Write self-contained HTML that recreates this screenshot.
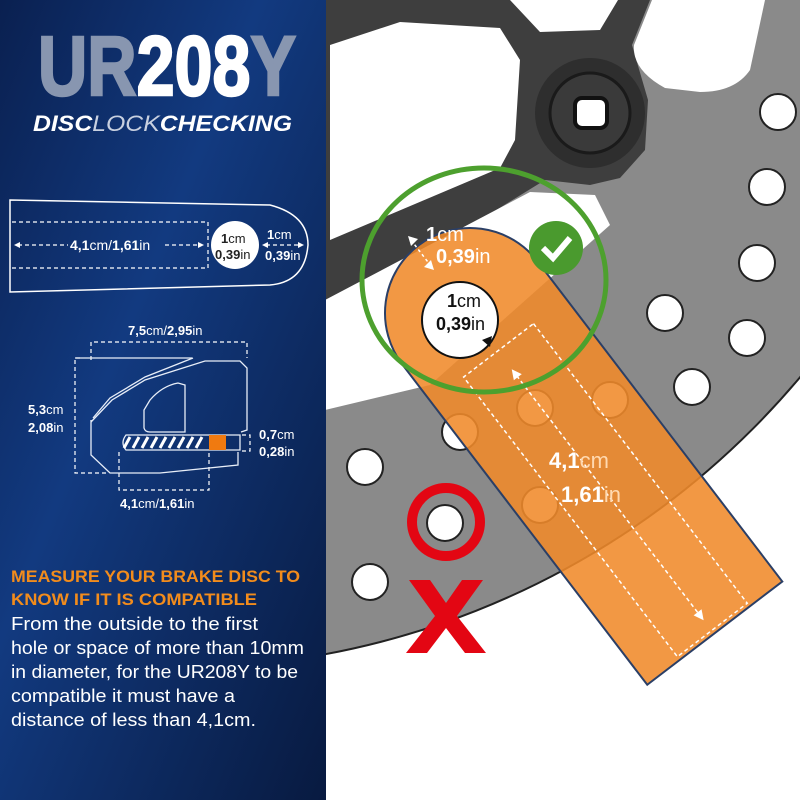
<!DOCTYPE html>
<html><head><meta charset="utf-8"><style>
html,body{margin:0;padding:0;background:#fff}
svg{display:block}
text{font-family:"Liberation Sans",sans-serif}
</style></head><body>
<svg width="800" height="800" viewBox="0 0 800 800" xmlns="http://www.w3.org/2000/svg">
<defs>
<linearGradient id="bg" x1="0" y1="0" x2="1" y2="1">
<stop offset="0" stop-color="#0a2050"/><stop offset="0.4" stop-color="#123a80"/><stop offset="1" stop-color="#081a40"/>
</linearGradient>
<clipPath id="rc"><rect x="325" y="0" width="475" height="800"/></clipPath>
</defs>
<rect width="800" height="800" fill="#fff"/>
<!-- disc -->
<g clip-path="url(#rc)">
<circle cx="176" cy="-147" r="815" fill="#8a8a8a" stroke="#222" stroke-width="2"/>
<!-- carrier -->
<path d="M325,0 L650,0 L632,45 L648,100 L645,150 L620,178 L590,185 L545,180 L325,315 Z" fill="#3e3e3e"/>
<!-- cutouts -->
<path d="M330,45 L400,22 L500,28 L520,60 L515,140 L500,168 L330,240 Z" fill="#fff"/>
<path d="M325,300 L530,192 L595,195 L610,225 L430,385 L325,410 Z" fill="#fff"/>
<path d="M510,0 L618,0 L600,30 L540,32 Z" fill="#fff"/>
<path d="M652,0 L765,0 L750,70 Q735,92 700,92 L665,88 Q632,70 634,45 Z" fill="#fff"/>
<!-- boss -->
<circle cx="590" cy="113" r="55" fill="#2e2e2e"/>
<circle cx="590" cy="113" r="40" fill="#3a3a3a" stroke="#1a1a1a" stroke-width="3"/>
<rect x="575" y="98" width="32" height="30" rx="7" fill="#fff" stroke="#111" stroke-width="4"/>
<!-- holes -->
<g fill="#fff" stroke="#222" stroke-width="2">
<circle cx="778" cy="112" r="18"/><circle cx="767" cy="187" r="18"/><circle cx="757" cy="263" r="18"/>
<circle cx="665" cy="313" r="18"/><circle cx="747" cy="338" r="18"/><circle cx="692" cy="387" r="18"/>
<circle cx="610" cy="400" r="18"/><circle cx="460" cy="432" r="18"/>
<circle cx="535" cy="408" r="18"/><circle cx="540" cy="505" r="18"/>
<circle cx="365" cy="467" r="18"/><circle cx="445" cy="523" r="18"/><circle cx="370" cy="582" r="18"/>
</g>
</g>
<!-- left panel -->
<rect x="0" y="0" width="326" height="800" fill="url(#bg)"/>
<text x="38" y="95" font-size="84" font-weight="bold" textLength="258" lengthAdjust="spacingAndGlyphs" stroke-width="2.5"><tspan fill="#8896b0" stroke="#8896b0">UR</tspan><tspan fill="#fff" stroke="#fff">208</tspan><tspan fill="#8896b0" stroke="#8896b0">Y</tspan></text>
<text x="33" y="131" font-size="22" font-weight="bold" font-style="italic" fill="#fff" textLength="259" lengthAdjust="spacingAndGlyphs">DISC<tspan font-weight="normal" fill="#c8d0e0">LOCK</tspan>CHECKING</text>
<!-- diagram 1 -->
<path d="M10,200 L270,205 Q308,215 308,245 Q305,282 270,285 L10,292 Z" fill="none" stroke="#fff" stroke-width="1.5"/>
<g stroke="#fff" stroke-width="1.2" stroke-dasharray="4,3" fill="none">
<path d="M12,222 L208,222 L208,268 L12,268"/>
<path d="M18,245 L68,245 M165,245 L200,245 M266,245 L300,245"/>
</g>
<circle cx="235" cy="245" r="24" fill="#fff"/>
<g fill="#fff"><path d="M14,245 L20,242 L20,248Z"/><path d="M204,245 L198,242 L198,248Z"/><path d="M262,245 L268,242 L268,248Z"/><path d="M304,245 L298,242 L298,248Z"/></g>
<text x="70" y="250" font-size="14" fill="#fff"><tspan font-weight="bold">4,1</tspan>cm/<tspan font-weight="bold">1,61</tspan>in</text>
<text x="221" y="243" font-size="13" fill="#222"><tspan font-weight="bold">1</tspan>cm</text>
<text x="215" y="259" font-size="13" fill="#222"><tspan font-weight="bold">0,39</tspan>in</text>
<text x="267" y="239" font-size="13" fill="#fff"><tspan font-weight="bold">1</tspan>cm</text>
<text x="265" y="260" font-size="13" fill="#fff"><tspan font-weight="bold">0,39</tspan>in</text>
<!-- diagram 2 lock -->
<text x="128" y="335" font-size="13" fill="#fff"><tspan font-weight="bold">7,5</tspan>cm/<tspan font-weight="bold">2,95</tspan>in</text>
<g stroke="#fff" stroke-width="1.2" stroke-dasharray="4,3" fill="none">
<path d="M91,360 L91,342 L247,342 L247,358"/>
<path d="M80,358 L75,358 L75,473 L108,473"/>
<path d="M119,452 L119,490 L209,490 L209,452"/>
<path d="M242,435 L250,435 L250,451 L242,451"/>
</g>
<g stroke="#e8eef8" stroke-width="1.3" fill="none">
<path d="M75,358 L192,358 M91,420 L91,455 L110,473 L160,473 L238,465 L238,452"/>
<path d="M91,422 L112,400 L145,380 L205,361 L240,361 L247,368 L247,430 L241,432"/>
<path d="M93,418 L110,398 L145,377 L193,358"/>
<path d="M144,410 L144,428 Q145,432 150,432 L185,432 L185,385 L178,383 Q162,386 150,400 Z"/>
<path d="M126,435 L240,435 L240,450 L126,450 Q120,443 126,435 Z"/>
</g>
<g stroke="#fff" stroke-width="3">
<path d="M124,448 L130,437 M133,448 L139,437 M142,448 L148,437 M151,448 L157,437 M160,448 L166,437 M169,448 L175,437 M178,448 L184,437 M187,448 L193,437 M196,448 L202,437"/>
</g>
<rect x="209" y="435" width="17" height="15" fill="#f07a10"/>
<text x="28" y="414" font-size="13" fill="#fff"><tspan font-weight="bold">5,3</tspan>cm</text>
<text x="28" y="432" font-size="13" fill="#fff"><tspan font-weight="bold">2,08</tspan>in</text>
<text x="259" y="439" font-size="13" fill="#fff"><tspan font-weight="bold">0,7</tspan>cm</text>
<text x="259" y="456" font-size="13" fill="#fff"><tspan font-weight="bold">0,28</tspan>in</text>
<text x="120" y="508" font-size="13" fill="#fff"><tspan font-weight="bold">4,1</tspan>cm/<tspan font-weight="bold">1,61</tspan>in</text>
<!-- text block -->
<g font-weight="bold" fill="#f28c1c" font-size="17">
<text x="11" y="582" textLength="289" lengthAdjust="spacingAndGlyphs">MEASURE YOUR BRAKE DISC TO</text>
<text x="11" y="605" textLength="246" lengthAdjust="spacingAndGlyphs">KNOW IF IT IS COMPATIBLE</text>
</g>
<g fill="#fff" font-size="18">
<text x="11" y="630" textLength="247" lengthAdjust="spacingAndGlyphs">From the outside to the first</text>
<text x="11" y="654" textLength="293" lengthAdjust="spacingAndGlyphs">hole or space of more than 10mm</text>
<text x="11" y="678" textLength="287" lengthAdjust="spacingAndGlyphs">in diameter, for the UR208Y to be</text>
<text x="11" y="702" textLength="224" lengthAdjust="spacingAndGlyphs">compatible it must have a</text>
<text x="11" y="726" textLength="245" lengthAdjust="spacingAndGlyphs">distance of less than 4,1cm.</text>
</g>
<!-- orange strip -->
<g transform="translate(470,313) rotate(52.6)">
<path d="M0,-85 L403,-85 L403,85 L0,85 A85,85 0 0 1 0,-85 Z" fill="#f08a2a" fill-opacity="0.88" stroke="#2b3f66" stroke-width="2"/>
<g stroke="#fff" stroke-width="1.5" stroke-dasharray="4,3" fill="none">
<path d="M47,-44 L399,-44 L399,44 L47,44 Z"/>
<path d="M78,1 L376,1"/>
</g>
<path d="M70,1 L80,-4 L80,6Z" fill="#fff"/>
<path d="M386,1 L376,-4 L376,6Z" fill="#fff"/>
</g>
<circle cx="460" cy="320" r="38" fill="#fff" stroke="#111" stroke-width="2"/>
<text x="447" y="307" font-size="18" fill="#111"><tspan font-weight="bold">1</tspan>cm</text>
<text x="436" y="330" font-size="18" fill="#111"><tspan font-weight="bold">0,39</tspan>in</text>
<path d="M490,347 L482,340 L492,336Z" fill="#111"/>
<path d="M411,240 L431,266" stroke="#fff" stroke-width="1.5" stroke-dasharray="3,3"/>
<path d="M408,236 L418,239 L411,246Z M434,270 L424,267 L431,260Z" fill="#fff"/>
<text x="426" y="241" font-size="20" fill="#fff"><tspan font-weight="bold">1</tspan>cm</text>
<text x="436" y="263" font-size="20" fill="#fff"><tspan font-weight="bold">0,39</tspan>in</text>
<text x="549" y="468" font-size="22" fill="#fff"><tspan font-weight="bold">4,1</tspan><tspan fill="#ffd9b0">cm</tspan></text>
<text x="561" y="502" font-size="22" fill="#fff"><tspan font-weight="bold">1,61</tspan><tspan fill="#ffd9b0">in</tspan></text>
<!-- green ring + check -->
<ellipse cx="484" cy="280" rx="122" ry="112" fill="none" stroke="#4da02e" stroke-width="5"/>
<circle cx="556" cy="248" r="27" fill="#4a9a2e"/>
<path d="M543,248 L553,258 L570,238" fill="none" stroke="#fff" stroke-width="6"/>
<!-- red -->
<circle cx="446" cy="522" r="34" fill="none" stroke="#e30613" stroke-width="10"/>
<path d="M409,580 L430,580 L446,603 L462,580 L483,580 L457,616 L486,653 L465,653 L446,628 L427,653 L406,653 L435,616 Z" fill="#e30613"/>
</svg>
</body></html>
